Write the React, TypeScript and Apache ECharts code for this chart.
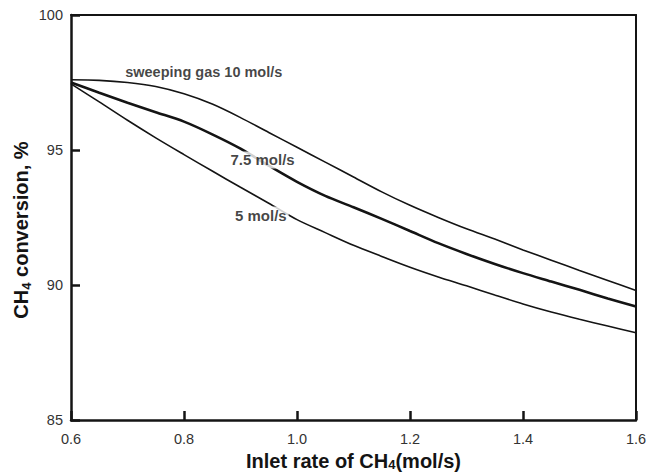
import React, { useEffect, useRef } from "react";
import * as echarts from "echarts";

const xValues = [
  0.6, 0.65, 0.7, 0.75, 0.8, 0.85, 0.9, 0.95, 1.0, 1.05, 1.1, 1.15, 1.2, 1.25, 1.3, 1.35, 1.4, 1.45,
  1.5, 1.55, 1.6,
];
const sweep10 = [
  97.6, 97.58, 97.5, 97.35, 97.08, 96.7, 96.2, 95.65, 95.1, 94.55, 94.0, 93.45, 92.95, 92.5, 92.08,
  91.7, 91.3, 90.92, 90.54, 90.17, 89.8,
];
const sweep75 = [
  97.5, 97.12, 96.75, 96.4, 96.05, 95.58, 95.05, 94.42, 93.82, 93.3, 92.88, 92.45, 92.0, 91.55, 91.15,
  90.78, 90.44, 90.13, 89.82, 89.5, 89.2,
];
const sweep5 = [
  97.45, 96.78, 96.1, 95.45, 94.83, 94.22, 93.62, 93.03, 92.42, 91.94, 91.47, 91.06, 90.66, 90.3,
  89.97, 89.63, 89.3, 89.0, 88.73, 88.48, 88.23,
];
const seriesNames = ["sweeping gas 10 mol/s", "7.5 mol/s", "5 mol/s"];
const labelAnchors = [
  [0.835, 97.9],
  [0.939, 94.63],
  [0.936, 92.59],
];
const xTicks = { min: 0.6, max: 1.6, interval: 0.2 };
const yTicks = { min: 85, max: 100, interval: 5 };

const FONT = "'Liberation Sans', Arial, Helvetica, sans-serif";
const INK = "#141414";

export default function App() {
  const ref = useRef<HTMLDivElement>(null);
  useEffect(() => {
    document.body.style.margin = "0";
    const chart = echarts.init(ref.current!, undefined, { renderer: "svg" });
    const mk = (vals: number[]) => xValues.map((x, i) => [x, vals[i]]);
    const widths = [1.6, 2.6, 1.6];
    const all = [sweep10, sweep75, sweep5];
    const sub = {
      fontSize: 13,
      fontWeight: "bold",
      fontFamily: FONT,
      color: INK,
      lineHeight: 13,
      verticalAlign: "bottom",
    };
    const tick = () => ({
      show: true,
      inside: true,
      length: 9,
      lineStyle: { color: INK, width: 2.5 },
    });
    const frame = (extra: object) => ({
      type: "value",
      splitLine: { show: false },
      axisLine: { show: true, onZero: false, lineStyle: { color: INK, width: 2 } },
      axisTick: { show: false },
      axisLabel: { show: false },
      ...extra,
    });
    chart.setOption({
      animation: false,
      backgroundColor: "#fff",
      grid: {
        left: 71,
        right: 15,
        top: 15,
        bottom: 55,
        show: false,
        containLabel: false,
        outerBoundsMode: "none",
      },
      xAxis: [
        {
          type: "value",
          min: xTicks.min,
          max: xTicks.max,
          interval: xTicks.interval,
          splitLine: { show: false },
          axisLine: { show: true, onZero: false, lineStyle: { color: INK, width: 2.5 } },
          axisTick: tick(),
          axisLabel: {
            color: "#333",
            fontSize: 14.5,
            fontFamily: FONT,
            margin: 11,
            formatter: (v: number) => v.toFixed(1),
          },
          name: "Inlet rate of CH{s|4}(mol/s)",
          nameLocation: "middle",
          nameGap: 31,
          nameTextStyle: {
            fontSize: 20,
            fontWeight: "bold",
            fontFamily: FONT,
            color: INK,
            lineHeight: 20,
            rich: { s: { ...sub, lineHeight: 11 } },
          },
        },
        frame({ position: "top", min: xTicks.min, max: xTicks.max }),
      ],
      yAxis: [
        {
          type: "value",
          min: yTicks.min,
          max: yTicks.max,
          interval: yTicks.interval,
          splitLine: { show: false },
          axisLine: { show: true, onZero: false, lineStyle: { color: INK, width: 2.5 } },
          axisTick: tick(),
          axisLabel: { color: "#333", fontSize: 14.5, fontFamily: FONT, margin: 8 },
        },
        frame({ position: "right", min: yTicks.min, max: yTicks.max }),
      ],
      graphic: [
        {
          type: "text",
          x: 21,
          y: 230,
          rotation: Math.PI / 2,
          style: {
            text: "CH{s|4} conversion, %",
            fontSize: 20,
            fontWeight: "bold",
            fontFamily: FONT,
            fill: INK,
            lineHeight: 24,
            align: "center",
            verticalAlign: "middle",
            rich: { s: { ...sub, fill: INK } },
          },
        },
      ],
      series: [
        ...all.map((vals, i) => ({
          type: "line",
          name: seriesNames[i],
          xAxisIndex: 0,
          yAxisIndex: 0,
          data: mk(vals),
          smooth: 0.3,
          showSymbol: false,
          symbol: "none",
          lineStyle: { color: INK, width: widths[i] },
          z: 2,
        })),
        {
          type: "scatter",
          xAxisIndex: 0,
          yAxisIndex: 0,
          z: 10,
          symbolSize: 0,
          data: labelAnchors.map((p, i) => ({
            value: p,
            label: {
              show: true,
              position: "inside",
              formatter: seriesNames[i],
              fontSize: i === 0 ? 14.5 : 15,
              fontWeight: "bold",
              fontFamily: FONT,
              color: INK,
              backgroundColor: "#fff",
              padding: [1, 2],
            },
          })),
        },
      ],
    });
    return () => chart.dispose();
  }, []);
  return <div ref={ref} style={{ width: 651, height: 475 }} />;
}
